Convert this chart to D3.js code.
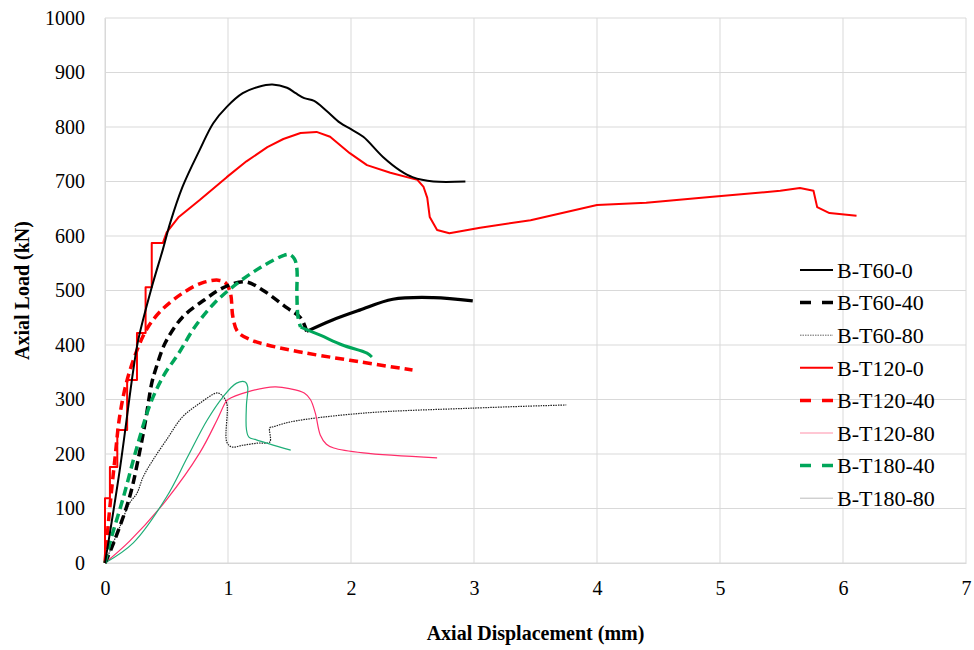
<!DOCTYPE html>
<html>
<head>
<meta charset="utf-8">
<script src="https://cdn.jsdelivr.net/npm/d3@7"></script>
<style>
  body { margin: 0; background: #fff; }
  svg text { font-family: "Liberation Serif", "DejaVu Serif", serif !important; fill: #000; }
</style>
</head>
<body>
<svg id="chart"></svg>
<script>
// tick labels
let xTicks = [0, 1, 2, 3, 4, 5, 6, 7];
let yTicks = [0, 100, 200, 300, 400, 500, 600, 700, 800, 900, 1000];

// [displacement (mm), load (kN)]
let b60_0 = [[0,0],[0.12,171],[0.23,354],[0.27,409],[0.38,506],[0.47,575],[0.53,624],[0.63,690],[0.77,758],[0.88,807],
  [0.99,837],[1.12,862],[1.25,874],[1.36,878],[1.48,872],[1.55,862],[1.62,853],[1.7,848],[1.8,830],[1.91,808],[2.0,796],
  [2.1,782],[2.26,745],[2.4,720],[2.5,708],[2.67,700],[2.93,700]];
let b60_40 = [[0,0],[0.07,37],[0.2,121],[0.28,202],[0.33,262],[0.38,330],[0.41,354],[0.49,404],[0.63,451],[0.81,483],
  [0.95,504],[1.14,516],[1.28,501],[1.48,468],[1.59,450],[1.64,425]];
let b60_40dense = [[1.64,425],[1.85,446],[2.07,464],[2.34,484],[2.67,487],[2.99,481]];
let b60_80 = [[0,0],[0.12,66],[0.2,110],[0.26,128],[0.31,158],[0.39,189],[0.5,226],[0.63,268],[0.77,293],[0.91,312],
  [0.95,308],[0.99,293],[0.99,222],[1.03,213],[1.12,216],[1.24,220],[1.34,222],[1.34,248],[1.37,250],[1.51,259],
  [2.1,275],[2.97,284],[3.75,290]];
let b120_0 = [[0,0],[0,119],[0.04,119],[0.04,176],[0.1,176],[0.1,244],[0.18,244],[0.18,336],[0.26,336],[0.26,422],
  [0.33,422],[0.33,506],[0.38,506],[0.38,587],[0.47,587],[0.5,606],[0.6,635],[0.77,666],[0.99,708],[1.15,737],
  [1.32,763],[1.45,778],[1.59,789],[1.72,791],[1.83,782],[1.99,752],[2.13,730],[2.32,716],[2.54,703],[2.59,690],
  [2.62,670],[2.64,635],[2.7,611],[2.8,605],[3.05,615],[3.46,629],[4.0,657],[4.4,661],[4.94,672],[5.49,683],
  [5.65,688],[5.76,683],[5.79,653],[5.89,642],[6.11,637]];
let b120_40 = [[0,0],[0.03,80],[0.08,190],[0.12,270],[0.18,336],[0.27,396],[0.35,433],[0.46,464],[0.63,495],[0.79,514],
  [0.92,519],[0.98,514],[1.02,495],[1.04,451],[1.08,424],[1.2,408],[1.32,400],[1.59,387],[1.99,372],[2.5,354]];
let b120_80 = [[0,0],[0.2,40],[0.5,116],[0.77,202],[0.91,262],[0.98,295],[1.0,300],[1.16,314],[1.38,323],[1.5,320],
  [1.62,312],[1.67,300],[1.71,275],[1.75,235],[1.8,218],[1.86,211],[2.1,202],[2.7,193]];
let b180_40 = [[0,0],[0.04,37],[0.15,121],[0.26,213],[0.37,293],[0.48,345],[0.6,385],[0.73,433],[0.89,477],[1.08,514],
  [1.27,543],[1.46,565],[1.5,566],[1.54,558],[1.56,540],[1.56,495],[1.57,450],[1.59,433]];
let b180_40dense = [[1.59,433],[1.75,418],[1.93,400],[2.13,385],[2.17,378]];
let b180_80 = [[0,0],[0.23,37],[0.5,121],[0.67,194],[0.83,262],[0.96,305],[1.07,330],[1.14,332],[1.16,323],
  [1.15,290],[1.15,245],[1.17,231],[1.23,226],[1.51,207]];

let legendNames = ["B-T60-0", "B-T60-40", "B-T60-80", "B-T120-0", "B-T120-40", "B-T120-80", "B-T180-40", "B-T180-80"];

const serif = '"Liberation Serif", "DejaVu Serif", serif';

function makeChart() {
    let w = 974;
    let h = 650;

    let svg = d3.select('#chart')
        .attr('width', w)
        .attr('height', h);

    let xScale = d3.scaleLinear().domain([0, 7]).range([105, 966]);
    let yScale = d3.scaleLinear().domain([0, 1000]).range([563, 18]);

    // grid
    svg.append('g').selectAll('line')
        .data(yTicks)
        .join('line')
        .attr('x1', xScale(0)).attr('x2', xScale(7))
        .attr('y1', d => yScale(d)).attr('y2', d => yScale(d))
        .attr('stroke', '#d9d9d9').attr('stroke-width', 1);
    svg.append('g').selectAll('line')
        .data(xTicks)
        .join('line')
        .attr('x1', d => xScale(d)).attr('x2', d => xScale(d))
        .attr('y1', yScale(0)).attr('y2', yScale(1000))
        .attr('stroke', '#d9d9d9').attr('stroke-width', 1);

    // axes (labels only, grey lines come from the grid)
    let xAxis = d3.axisBottom(xScale).tickValues(xTicks).tickSize(0).tickPadding(18).tickFormat(d3.format('d'));
    let xAxisGroup = svg.append('g')
        .attr('transform', `translate(0, ${yScale(0)})`)
        .call(xAxis);
    let yAxis = d3.axisLeft(yScale).tickValues(yTicks).tickSize(0).tickPadding(20).tickFormat(d3.format('d'));
    let yAxisGroup = svg.append('g')
        .attr('transform', `translate(${xScale(0)}, 0)`)
        .call(yAxis);
    [xAxisGroup, yAxisGroup].forEach(g => {
        g.attr('font-family', null).attr('font-size', null);
        g.select('.domain').attr('stroke', '#d9d9d9');
        g.selectAll('text')
            .style('font-family', serif)
            .style('font-size', '20px')
            .attr('fill', '#000');
    });

    svg.append('text')
        .attr('x', (xScale(0) + xScale(7)) / 2)
        .attr('y', 640)
        .attr('text-anchor', 'middle')
        .style('font-family', serif)
        .style('font-size', '20px')
        .style('font-weight', 'bold')
        .text('Axial Displacement (mm)');
    svg.append('text')
        .attr('transform', `translate(29, ${(yScale(0) + yScale(1000)) / 2}) rotate(-90)`)
        .attr('text-anchor', 'middle')
        .style('font-family', serif)
        .style('font-size', '20px')
        .style('font-weight', 'bold')
        .text('Axial Load (kN)');

    let smooth = d3.line()
        .curve(d3.curveCatmullRom.alpha(0.5))
        .x(d => xScale(d[0]))
        .y(d => yScale(d[1]));
    let straight = d3.line()
        .x(d => xScale(d[0]))
        .y(d => yScale(d[1]));

    let lines = [
        { data: b60_80, color: '#222', width: 1.2, dash: '1.5,1', gen: smooth },
        { data: b120_80, color: '#ff2d6a', width: 1.2, dash: null, gen: smooth },
        { data: b180_80, color: '#1fae78', width: 1.2, dash: null, gen: smooth },
        { data: b120_40, color: '#ff0000', width: 3.5, dash: '9,5', gen: smooth },
        { data: b60_40, color: '#000', width: 3.5, dash: '9,5', gen: smooth },
        { data: b60_40dense, color: '#000', width: 3.2, dash: null, gen: smooth },
        { data: b180_40, color: '#00a65a', width: 3.5, dash: '9,5', gen: smooth },
        { data: b180_40dense, color: '#00a65a', width: 3, dash: null, gen: smooth },
        { data: b120_0, color: '#ff0000', width: 2, dash: null, gen: straight },
        { data: b60_0, color: '#000', width: 2, dash: null, gen: smooth }
    ];

    svg.append('g').selectAll('path')
        .data(lines)
        .join('path')
        .attr('fill', 'none')
        .attr('stroke', d => d.color)
        .attr('stroke-width', d => d.width)
        .attr('stroke-dasharray', d => d.dash)
        .attr('stroke-linejoin', 'round')
        .attr('d', d => d.gen(d.data));

    // legend
    let legendStyle = [
        { color: '#000', width: 2, dash: null },
        { color: '#000', width: 3.5, dash: '11,11' },
        { color: '#666', width: 1, dash: '1.5,1' },
        { color: '#ff0000', width: 2, dash: null },
        { color: '#ff0000', width: 3.5, dash: '11,11' },
        { color: '#ff8fa8', width: 1, dash: null },
        { color: '#00a65a', width: 3.5, dash: '11,11' },
        { color: '#bbbbbb', width: 1, dash: null }
    ];
    let legend = svg.append('g');
    let rows = legend.selectAll('g')
        .data(legendNames)
        .join('g')
        .attr('transform', (d, i) => `translate(800, ${270 + i * 32.6})`);
    rows.append('line')
        .attr('x1', 0).attr('x2', 33)
        .attr('stroke', (d, i) => legendStyle[i].color)
        .attr('stroke-width', (d, i) => legendStyle[i].width)
        .attr('stroke-dasharray', (d, i) => legendStyle[i].dash);
    rows.append('text')
        .attr('x', 37)
        .attr('dy', '0.35em')
        .style('font-family', serif)
        .style('font-size', '22px')
        .text(d => d);
}

window.onload = function() {
    makeChart();
}
</script>
</body>
</html>
